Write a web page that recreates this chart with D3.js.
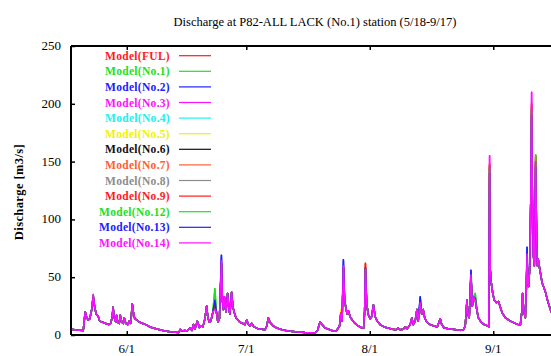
<!DOCTYPE html>
<html>
<head>
<meta charset="utf-8">
<script src="https://cdn.jsdelivr.net/npm/d3@7"></script>
<style>
  body { margin: 0; overflow: hidden; background: #fff; }
  svg { display: block; }
  svg text { font-family: 'Liberation Serif', 'Times New Roman', 'DejaVu Serif', serif; }
</style>
</head>
<body>
<div id="chart"></div>
<script>
// time in days since 5/18 00:00
const days = [0, 0.93, 2.19, 3.07, 3.32, 3.57, 3.95, 4.32, 4.70, 5.20, 5.58, 5.96, 6.33, 6.84, 7.21, 7.97, 8.72, 9.48, 9.98, 10.36,
  10.56, 10.86, 11.24, 11.44, 11.74, 12.12, 12.37, 12.75, 13.12, 13.37, 13.75, 14.25, 14.63, 15.01, 15.38, 15.64, 16.01, 16.52, 17.27, 18.02,
  18.78, 19.78, 21.79, 23.55, 25.31, 27.07, 27.45, 27.83, 28.58, 29.08, 29.84, 30.34, 30.72, 31.10, 31.72, 32.23, 32.73, 33.11, 33.61, 34.04,
  34.36, 34.74, 35.12, 35.62, 36.12, 36.50, 36.88, 37.26, 37.76, 38.01, 38.26, 38.51, 38.89, 39.32, 39.65, 39.89, 40.32, 40.65, 41.03, 41.40,
  41.91, 42.41, 43.16, 43.67, 44.09, 44.55, 44.92, 45.35, 45.93, 46.93, 47.94, 48.69, 49.19, 49.52, 49.95, 50.70, 51.71, 52.97, 54.48, 56.24,
  58.75, 61.26, 61.89, 62.52, 63.03, 63.78, 65.04, 65.79, 66.55, 67.05, 67.42, 67.72, 68.05, 68.38, 68.68, 68.93, 69.31, 69.63, 70.06, 70.56,
  71.32, 72.07, 72.83, 73.45, 73.71, 73.91, 74.21, 74.59, 75.09, 75.47, 75.92, 76.35, 76.85, 77.60, 78.61, 79.61, 80.62, 81.63, 82.13, 82.63,
  83.39, 83.89, 84.40, 85.15, 85.57, 85.90, 86.40, 86.83, 87.16, 87.66, 88.04, 88.41, 88.79, 89.17, 89.67, 90.17, 90.93, 91.93, 92.69, 93.06,
  93.69, 94.70, 95.70, 96.71, 97.71, 98.47, 98.97, 99.40, 99.60, 99.97, 100.40, 100.73, 101.06, 101.48, 101.86, 102.24, 102.99, 103.75, 104.50, 104.88,
  105.08, 105.25, 105.50, 105.83, 106.26, 106.76, 107.34, 107.77, 108.27, 109.02, 110.28, 111.54, 112.29, 112.79, 113.17, 113.37, 113.67, 114.05, 114.30, 114.48,
  114.68, 114.88, 115.18, 115.43, 115.63, 115.81, 116.06, 116.31, 116.64, 116.86, 117.06, 117.26, 117.52, 117.77, 118.27, 119.03, 119.78, 120.53, 122];

// Model(No.14) discharge, m3/s (the series drawn on top)
const flowNo14 = [5, 4.6, 4, 3.8, 12, 20, 15, 13, 14, 22, 35, 24, 18, 16, 12, 11, 10, 9, 10, 16,
  24, 15, 11, 17, 11, 10, 17, 11, 10, 15, 10, 9, 12, 10, 27, 20, 14, 13, 11, 10,
  9, 7, 5, 3.5, 2.6, 2.2, 5, 3.5, 4, 3.5, 6, 4, 9, 5, 12, 6.5, 8, 7, 14, 25,
  15, 11, 12, 20, 22, 20, 11, 14, 64, 30, 22, 33, 20, 36, 22, 18, 37, 24, 19, 15,
  13, 11, 10, 9, 13, 9, 8, 10, 7, 5.5, 5, 4.5, 8, 15, 11, 8, 6, 4.5, 3.5, 2.8,
  2.2, 2, 4, 11.5, 9, 6, 4.5, 3.5, 3.2, 6, 8, 18, 12, 60, 30, 25, 18, 21, 16, 13,
  10, 8, 6.5, 6, 20, 57, 28, 18, 14, 16, 26, 16, 12, 9, 7, 6, 5, 4.5, 6, 4.5,
  5, 7, 5.5, 9, 15, 9, 12, 22, 12, 28, 18, 22, 15, 12, 10, 9, 8, 7, 14, 9,
  6, 5.5, 5, 4.5, 4, 4.5, 8, 30, 18, 15, 52, 25, 33, 30, 22, 15, 11, 9, 8, 7,
  155, 56, 45, 37, 30, 28, 29, 24, 19, 15, 12, 10, 9, 8.5, 20, 36, 20, 15, 40, 70,
  45, 42, 60, 120, 210, 120, 70, 60, 150, 90, 60, 66, 60, 55, 45, 38, 28, 20, 14];

// days where the models part visibly, and each model's value there
const peakDays = [5.58, 36.12, 37.76, 67.72, 68.38, 73.91, 87.66, 100.40, 101.48, 105.08, 114.48, 115.63, 116.64];
const peaksFUL  = [33, 26, 62, 19, 58, 62, 27, 50, 31, 148, 66, 200, 155];
const peaksNo1  = [35, 40, 60, 18, 57, 56, 29, 53, 36, 145, 68, 195, 156];
const peaksNo2  = [33, 30, 69, 18, 65, 58, 33, 56, 32, 140, 76, 190, 145];
const peaksNo3  = [35, 22, 64, 18, 60, 57, 28, 52, 30, 155, 70, 210, 150];
const peaksNo4  = [30, 24, 58, 17, 55, 54, 26, 48, 28, 138, 64, 185, 140];
const peaksNo5  = [32, 28, 60, 22, 57, 59, 27, 50, 30, 142, 66, 192, 148];
const peaksNo6  = [33, 27, 61, 18, 58, 58, 28, 51, 31, 146, 68, 196, 150];
const peaksNo7  = [33, 27, 62, 19, 59, 61, 28, 51, 31, 147, 67, 198, 152];
const peaksNo8  = [32, 26, 61, 18, 58, 58, 27, 50, 30, 144, 66, 194, 149];
const peaksNo9  = [33, 26, 62, 19, 58, 62, 27, 50, 31, 148, 66, 200, 155];
const peaksNo12 = [35, 40, 60, 18, 57, 56, 29, 53, 36, 145, 68, 195, 156];
const peaksNo13 = [33, 30, 69, 18, 65, 58, 33, 56, 32, 140, 76, 190, 145];
const peaksNo14 = [35, 22, 64, 18, 60, 57, 28, 52, 30, 155, 70, 210, 150];

const seriesNames = ['Model(FUL)', 'Model(No.1)', 'Model(No.2)', 'Model(No.3)', 'Model(No.4)', 'Model(No.5)', 'Model(No.6)',
  'Model(No.7)', 'Model(No.8)', 'Model(No.9)', 'Model(No.12)', 'Model(No.13)', 'Model(No.14)'];
const seriesPeaks = [peaksFUL, peaksNo1, peaksNo2, peaksNo3, peaksNo4, peaksNo5, peaksNo6,
  peaksNo7, peaksNo8, peaksNo9, peaksNo12, peaksNo13, peaksNo14];
const seriesColors = ['#ff1a1a', '#1ee01e', '#2020ff', '#ff10ff', '#20f0f0', '#f2f200', '#111111',
  '#ff6030', '#8c8c8c', '#ff1a1a', '#1ee01e', '#2020ff', '#ff10ff'];

const monthTicks = [14, 44, 75, 106];
const monthLabels = ['6/1', '7/1', '8/1', '9/1'];
const yTicks = [0, 50, 100, 150, 200, 250];

const W = 551, H = 356;
const margin = { top: 46, left: 71, bottom: 21 };
const plotW = 486, plotH = H - margin.top - margin.bottom;
const serif = "'Liberation Serif', 'Times New Roman', 'DejaVu Serif', serif";

const svg = d3.select('#chart').append('svg')
  .attr('width', W).attr('height', H);

const x = d3.scaleLinear().domain([0, 122]).range([margin.left, margin.left + plotW]);
const y = d3.scaleLinear().domain([0, 250]).range([margin.top + plotH, margin.top]);

// build each model's series from the shared hydrograph plus its own peak readings
const series = seriesNames.map((name, i) => {
  const vals = flowNo14.slice();
  peakDays.forEach((d, k) => {
    const idx = days.indexOf(d);
    if (idx >= 0) vals[idx] = seriesPeaks[i][k];
  });
  return { name, color: seriesColors[i], values: days.map((d, j) => ({ d, v: vals[j] })) };
});

const line = d3.line().x(p => x(p.d)).y(p => y(p.v));

svg.append('g')
  .selectAll('path')
  .data(series)
  .join('path')
  .attr('d', s => line(s.values))
  .attr('fill', 'none')
  .attr('stroke', s => s.color)
  .attr('stroke-width', 1.5)
  .attr('stroke-linejoin', 'round');

// frame
const frame = svg.append('g').attr('stroke', '#000').attr('stroke-width', 2);
frame.append('line').attr('x1', x(0)).attr('x2', x(122) + 5).attr('y1', y(250)).attr('y2', y(250));
frame.append('line').attr('x1', x(0)).attr('x2', x(122) + 5).attr('y1', y(0)).attr('y2', y(0));
frame.append('line').attr('x1', x(0)).attr('x2', x(0)).attr('y1', y(250)).attr('y2', y(0));

// y axis (ticks inward)
const yAxis = svg.append('g')
  .attr('transform', `translate(${x(0)},0)`)
  .call(d3.axisRight(y).tickValues(yTicks).tickSize(4).tickFormat(''));
yAxis.select('.domain').remove();
yAxis.selectAll('line').attr('stroke-width', 1.5);
svg.append('g').selectAll('text')
  .data(yTicks)
  .join('text')
  .attr('x', 61).attr('y', d => y(d) + 4)
  .attr('text-anchor', 'end')
  .attr('font-family', serif)
  .attr('font-size', 13)
  .text(d => d);

// x axis, bottom and top ticks inward
const xBottom = svg.append('g')
  .attr('transform', `translate(0,${y(0)})`)
  .call(d3.axisTop(x).tickValues(monthTicks).tickSize(4).tickFormat(''));
xBottom.select('.domain').remove();
xBottom.selectAll('line').attr('stroke-width', 1.5);
const xTop = svg.append('g')
  .attr('transform', `translate(0,${y(250)})`)
  .call(d3.axisBottom(x).tickValues(monthTicks).tickSize(4).tickFormat(''));
xTop.select('.domain').remove();
xTop.selectAll('line').attr('stroke-width', 1.5);
svg.append('g').selectAll('text')
  .data(monthTicks)
  .join('text')
  .attr('x', d => x(d)).attr('y', 353)
  .attr('text-anchor', 'middle')
  .attr('font-family', serif)
  .attr('font-size', 13)
  .text((d, i) => monthLabels[i]);

// title
svg.append('text')
  .attr('x', 315).attr('y', 26)
  .attr('text-anchor', 'middle')
  .attr('font-family', serif)
  .attr('font-size', 12.5)
  .text('Discharge at P82-ALL LACK (No.1) station (5/18-9/17)');

// y label
svg.append('text')
  .attr('transform', `translate(23,${192})rotate(-90)`)
  .attr('text-anchor', 'middle')
  .attr('font-family', serif)
  .attr('font-size', 12.5)
  .attr('font-weight', 'bold')
  .attr('letter-spacing', 0.4)
  .text('Discharge [m3/s]');

// legend
const legend = svg.append('g');
series.forEach((s, i) => {
  const cy = 55.7 + i * 15.6;
  legend.append('text')
    .attr('x', 170).attr('y', cy + 4)
    .attr('text-anchor', 'end')
    .attr('fill', s.color)
    .attr('font-family', serif)
    .attr('font-size', 11.5)
    .attr('font-weight', 'bold')
    .attr('letter-spacing', 0.3)
    .text(s.name);
  legend.append('line')
    .attr('x1', 179).attr('x2', 211)
    .attr('y1', cy).attr('y2', cy)
    .attr('stroke', s.color)
    .attr('stroke-width', 1.2);
});
</script>
</body>
</html>
